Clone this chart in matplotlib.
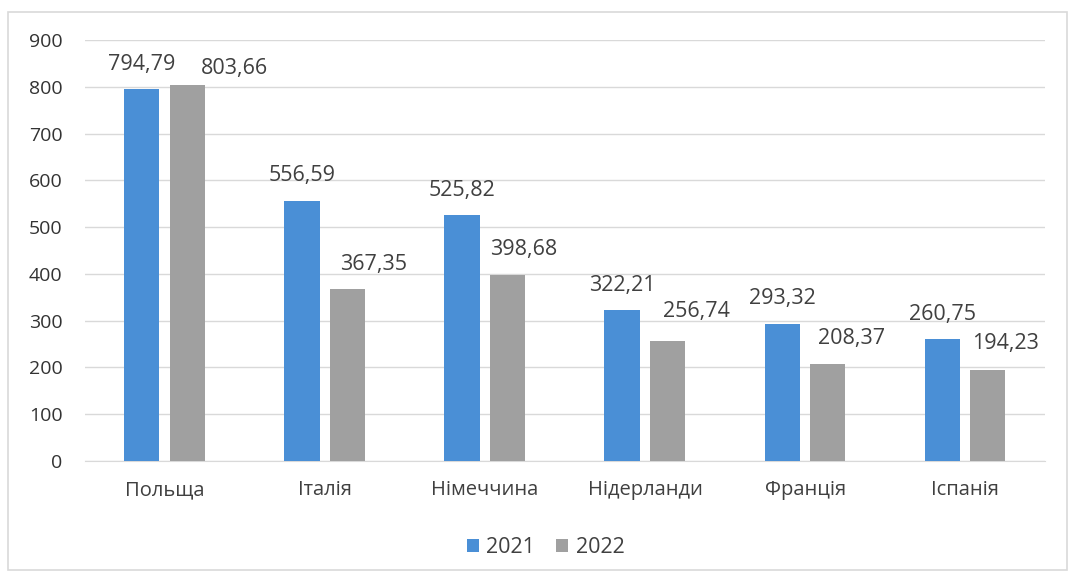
import numpy as np
import matplotlib.pyplot as plt
from matplotlib.patches import Rectangle

countries = ['Польща', 'Італія', 'Німеччина', 'Нідерланди', 'Франція', 'Іспанія']
values_2021 = [794.79, 556.59, 525.82, 322.21, 293.32, 260.75]
values_2022 = [803.66, 367.35, 398.68, 256.74, 208.37, 194.23]
years = ['2021', '2022']

# the 2022 labels in the original are nudged right of their bars (points)
shift_2022 = [34, 19, 12, 21, 17, 13]
lift_2022 = [12, 18, 18, 21, 18, 19]

plt.rcParams['font.family'] = ['Open Sans', 'DejaVu Sans']

fig = plt.figure(figsize=(10.72, 5.81), dpi=100)
ax = fig.add_axes([0.079, 0.2065, 0.896, 0.7246])

# light frame around the chart area
fig.patches.append(Rectangle((0.0075, 0.019), 0.988, 0.96, transform=fig.transFigure,
                             fill=False, edgecolor='#d9d9d9', linewidth=1.2))

x = np.arange(len(countries))
width = 0.22
b1 = ax.bar(x - 0.143, values_2021, width, color='#4a8fd6', label=years[0], zorder=3)
b2 = ax.bar(x + 0.14, values_2022, width, color='#a0a0a0', label=years[1], zorder=3)

def fmt(v):
    return f'{v:.2f}'.replace('.', ',')

for bar, v in zip(b1, values_2021):
    ax.annotate(fmt(v), (bar.get_x() + bar.get_width() / 2, v), xytext=(0, 18),
                textcoords='offset points', ha='center', va='center',
                fontsize=15.5, color='#404040')
for bar, v, dx, dy in zip(b2, values_2022, shift_2022, lift_2022):
    ax.annotate(fmt(v), (bar.get_x() + bar.get_width() / 2, v), xytext=(dx, dy),
                textcoords='offset points', ha='center', va='center',
                fontsize=15.5, color='#404040')

ax.set_xlim(-0.5, len(countries) - 0.5)
ax.set_ylim(0, 900)
ax.set_yticks(range(0, 901, 100))
ax.set_xticks(x)
ax.set_xticklabels(countries, fontsize=14.5, color='#404040')
ax.tick_params(axis='y', labelsize=14, labelcolor='#333333', length=0, pad=16)
ax.tick_params(axis='x', length=0, pad=14)
ax.grid(axis='y', color='#d9d9d9', linewidth=1, zorder=0)
for s in ['top', 'right', 'left']:
    ax.spines[s].set_visible(False)
ax.spines['bottom'].set_color('#d9d9d9')

fig.legend(handles=[b1, b2], loc='center', bbox_to_anchor=(0.509, 0.058), ncol=2,
           frameon=False, fontsize=15.5, handlelength=0.55, handleheight=0.55,
           handletextpad=0.35, columnspacing=1.0, labelcolor='#404040')

fig.savefig('out.png', dpi=100)
